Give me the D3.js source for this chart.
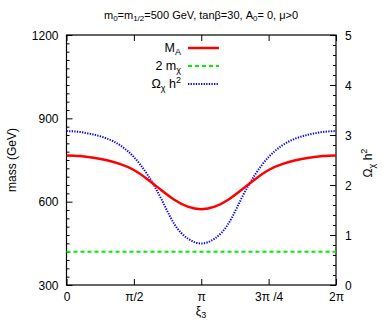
<!DOCTYPE html>
<html><head><meta charset="utf-8">
<script src="https://cdn.jsdelivr.net/npm/d3@7"></script>
<style>
body{margin:0;background:#fff}
text{font-family:"Liberation Sans",Arial,sans-serif;fill:#000}
</style></head>
<body><svg id="c" width="382" height="320"></svg>
<script>
// x in units of pi
const xi = [0,0.1,0.2,0.3,0.4,0.5,0.6,0.7,0.8,0.9,1.0,1.1,1.2,1.3,1.4,1.5,1.6,1.7,1.8,1.9,2.0];
const mA = [766,764,758,749,735,714,681,643,607,582,573,582,607,643,681,714,735,749,758,764,766];
const omega = [3.08,3.06,3.01,2.93,2.79,2.56,2.21,1.74,1.22,0.93,0.83,0.93,1.22,1.74,2.21,2.56,2.79,2.93,3.01,3.06,3.08];
const twoMchi = [420,420];
const twoMchiX = [0,2];
const xTicks = [0,0.5,1,1.5,2];
const xTickLabels = ["0","π/2","π","3π /4","2π"];
const yTicks = [300,600,900,1200];
const y2Ticks = [0,1,2,3,4,5];

const svg = d3.select("#c");
const L=66.5, R=336, T=35, B=285;
const x = d3.scaleLinear().domain([0,2]).range([L,R]);
const y = d3.scaleLinear().domain([300,1200]).range([B,T]);
const y2 = d3.scaleLinear().domain([0,5]).range([B,T]);

// axes
const gL = svg.append("g").attr("transform",`translate(${L},0)`);
gL.call(d3.axisRight(y).tickValues(d3.range(300,1201,30)).tickSize(3).tickFormat(""));
gL.call(g=>g.selectAll(".tick").filter(d=>yTicks.includes(d)).select("line").attr("x2",6));
gL.selectAll(".domain").remove();
gL.selectAll(".tick").filter(d=>yTicks.includes(d)).append("text")
  .attr("x",-8).attr("dy","0.35em").attr("text-anchor","end").attr("font-size",12).text(d=>d);

const gR = svg.append("g").attr("transform",`translate(${R},0)`);
gR.call(d3.axisLeft(y2).tickValues(d3.range(0,5.01,0.2).map(v=>+v.toFixed(1))).tickSize(3).tickFormat(""));
gR.call(g=>g.selectAll(".tick").filter(d=>y2Ticks.includes(d)).select("line").attr("x2",-6));
gR.selectAll(".domain").remove();
gR.selectAll(".tick").filter(d=>y2Ticks.includes(d)).append("text")
  .attr("x",9).attr("dy","0.35em").attr("text-anchor","start").attr("font-size",12).text(d=>d);

const gB = svg.append("g").attr("transform",`translate(0,${B})`);
gB.call(d3.axisTop(x).tickValues(xTicks).tickSize(6).tickFormat(""));
gB.selectAll(".domain").remove();
gB.selectAll(".tick").append("text").attr("y",16).attr("text-anchor","middle").attr("font-size",12)
  .text((d,i)=>xTickLabels[i]);
const gT = svg.append("g").attr("transform",`translate(0,${T})`);
gT.call(d3.axisBottom(x).tickValues(xTicks).tickSize(6).tickFormat(""));
gT.selectAll(".domain").remove();
svg.selectAll(".tick line").attr("stroke","#000");

svg.append("rect").attr("x",L).attr("y",T).attr("width",R-L).attr("height",B-T)
  .attr("fill","none").attr("stroke","#000").attr("stroke-width",1.2);

// curves
svg.append("path").datum(twoMchiX.map((v,i)=>[v,twoMchi[i]]))
  .attr("d",d3.line().x(d=>x(d[0])).y(d=>y(d[1])))
  .attr("fill","none").attr("stroke","#00ee00").attr("stroke-width",2).attr("stroke-dasharray","4,3");
svg.append("path").datum(xi.map((v,i)=>[v,omega[i]]))
  .attr("d",d3.line().x(d=>x(d[0])).y(d=>y2(d[1])).curve(d3.curveNatural))
  .attr("fill","none").attr("stroke","#0000ff").attr("stroke-width",2).attr("stroke-dasharray","1.3,1.3");
svg.append("path").datum(xi.map((v,i)=>[v,mA[i]]))
  .attr("d",d3.line().x(d=>x(d[0])).y(d=>y(d[1])).curve(d3.curveNatural))
  .attr("fill","none").attr("stroke","#ff0000").attr("stroke-width",2.5);

// legend
const leg = [
  {label:"MA", stroke:"#ff0000", dash:null, w:2.5},
  {label:"2mchi", stroke:"#00ee00", dash:"4,3", w:2},
  {label:"omega", stroke:"#0000ff", dash:"1.3,1.3", w:2}
];
leg.forEach((l,i)=>{
  const yy = 48 + i*18;
  svg.append("line").attr("x1",188).attr("x2",219).attr("y1",yy).attr("y2",yy)
    .attr("stroke",l.stroke).attr("stroke-width",l.w).attr("stroke-dasharray",l.dash);
  const t = svg.append("text").attr("x",181).attr("y",yy).attr("dy","0.35em")
    .attr("text-anchor","end").attr("font-size",12.5);
  if(l.label==="MA"){ t.append("tspan").text("M"); t.append("tspan").attr("font-size",9).attr("dy",3).text("A"); }
  else if(l.label==="2mchi"){ t.append("tspan").text("2 m"); t.append("tspan").attr("font-size",9).attr("dy",3).text("χ"); }
  else { t.append("tspan").text("Ω"); t.append("tspan").attr("font-size",9).attr("dy",3).text("χ");
         t.append("tspan").attr("dy",-3).text(" h"); t.append("tspan").attr("font-size",9).attr("dy",-5).text("2"); }
});

// title
const tt = svg.append("text").attr("x",201).attr("y",19).attr("text-anchor","middle").attr("font-size",11);
tt.append("tspan").text("m");
tt.append("tspan").attr("font-size",8).attr("dy",2).text("0");
tt.append("tspan").attr("dy",-2).text("=m");
tt.append("tspan").attr("font-size",8).attr("dy",2).text("1/2");
tt.append("tspan").attr("dy",-2).text("=500 GeV,  tanβ=30, A");
tt.append("tspan").attr("font-size",8).attr("dy",2).text("0");
tt.append("tspan").attr("dy",-2).text("= 0, μ>0");

// axis labels
const xl = svg.append("text").attr("x",201).attr("y",315).attr("text-anchor","middle").attr("font-size",12);
xl.append("tspan").text("ξ"); xl.append("tspan").attr("font-size",9).attr("dy",3).text("3");
svg.append("text").attr("transform","translate(16,160) rotate(-90)").attr("text-anchor","middle")
  .attr("font-size",12).text("mass (GeV)");
const rl = svg.append("text").attr("transform","translate(372,163) rotate(-90)").attr("text-anchor","middle").attr("font-size",12);
rl.append("tspan").text("Ω"); rl.append("tspan").attr("font-size",9).attr("dy",3).text("χ");
rl.append("tspan").attr("dy",-3).text(" h"); rl.append("tspan").attr("font-size",9).attr("dy",-5).text("2");
</script></body></html>
